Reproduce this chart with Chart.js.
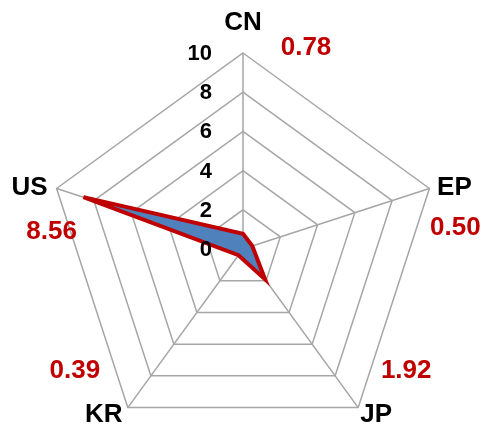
<!DOCTYPE html>
<html lang="en">
  <head>
    <meta charset="UTF-8" />
    <title>Radar</title>
    <script src="https://cdn.jsdelivr.net/npm/chart.js@4/dist/chart.umd.min.js"></script>
    <style>
      html, body { margin: 0; padding: 0; background: #fff; }
      #radarChart { display: block; }
    </style>
  </head>
  <body>
    <canvas id="radarChart" width="484" height="427"></canvas>
    <script>
      const categories = ["CN", "EP", "JP", "KR", "US"];
      const values = [0.78, 0.5, 1.92, 0.39, 8.56];
      const valueLabels = ["0.78", "0.50", "1.92", "0.39", "8.56"];
      const tickValues = [0, 2, 4, 6, 8, 10];

      // text placement around each vertex (dx, dy of text centre)
      const nameOffsets = [[0, -30], [25, -1], [18, 7], [-24, 7], [-27, -1]];
      const valueOffsets = [[63, -5], [26, 39], [48, -37], [-53, -37], [-5, 43]];

      const labelPlugin = {
        id: "radarLabels",
        afterDraw(chart) {
          const scale = chart.scales.r;
          const ctx = chart.ctx;
          ctx.save();
          ctx.textAlign = "center";
          ctx.textBaseline = "middle";
          categories.forEach(function (name, i) {
            const p = scale.getPointPosition(i, scale.drawingArea);
            ctx.font = "bold 26px 'Liberation Sans', Arial, sans-serif";
            ctx.fillStyle = "#000";
            ctx.fillText(name, p.x + nameOffsets[i][0], p.y + nameOffsets[i][1]);
            ctx.fillStyle = "#C00000";
            ctx.fillText(valueLabels[i], p.x + valueOffsets[i][0], p.y + valueOffsets[i][1]);
          });
          ctx.font = "bold 22px 'Liberation Sans', Arial, sans-serif";
          ctx.fillStyle = "#000";
          ctx.textAlign = "right";
          tickValues.forEach(function (v) {
            const d = scale.getDistanceFromCenterForValue(v);
            ctx.fillText(String(v), scale.xCenter - 31, scale.yCenter - d + 1);
          });
          ctx.restore();
        },
      };

      new Chart(document.getElementById("radarChart"), {
        type: "radar",
        data: {
          labels: categories,
          datasets: [
            {
              data: values,
              backgroundColor: "#4F81BD",
              borderColor: "#C00000",
              borderWidth: 4,
              pointRadius: 0,
              fill: true,
            },
          ],
        },
        options: {
          responsive: false,
          animation: false,
          plugins: { legend: { display: false }, tooltip: { enabled: false } },
          scales: {
            r: {
              min: 0,
              max: 10,
              ticks: { stepSize: 2, display: false },
              pointLabels: { display: false },
              grid: { color: "#A6A6A6", lineWidth: 1.5 },
              angleLines: { color: "#A6A6A6", lineWidth: 1.5 },
              afterFit(scale) {
                scale.xCenter = 243;
                scale.yCenter = 249;
                scale.drawingArea = 196;
              },
            },
          },
        },
        plugins: [labelPlugin],
      });
    </script>
  </body>
</html>
